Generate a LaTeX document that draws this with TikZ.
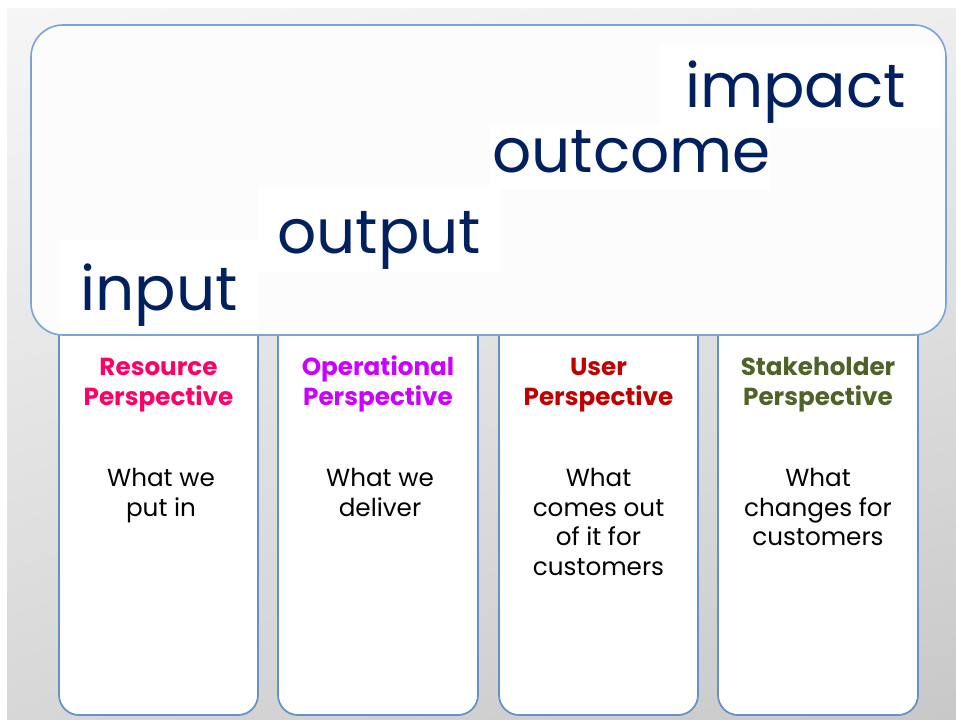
\documentclass[tikz,border=0pt]{standalone}
\usepackage{fontspec}
\setmainfont{Poppins}
\usetikzlibrary{shadings}
\definecolor{navy}{RGB}{0,32,96}
\definecolor{resc}{RGB}{255,0,102}
\definecolor{operc}{RGB}{204,0,255}
\definecolor{userc}{RGB}{192,0,0}
\definecolor{stakec}{RGB}{79,98,40}
\definecolor{bigborder}{RGB}{120,164,214}
\definecolor{colborder}{RGB}{100,145,200}
\definecolor{bigfill}{RGB}{252,252,252}
\definecolor{bgul}{RGB}{246,246,246}
\definecolor{bgur}{RGB}{238,238,238}
\definecolor{bgll}{RGB}{215,215,215}
\definecolor{bglr}{RGB}{200,200,200}
\newcommand{\hstrut}{\rule{0pt}{18pt}}
\tikzset{
  column/.style={draw=colborder, fill=white, line width=1.3pt, rounded corners=15pt},
  bigword/.style={text=navy, anchor=base west, inner sep=0pt, font=\fontsize{46}{50}\selectfont},
  wordbg/.style={fill=white, draw=none},
  heading/.style={anchor=north, inner sep=0pt, align=center, font=\bfseries\fontsize{18.5}{22.5}\selectfont},
  body/.style={anchor=north, inner sep=0pt, align=center, text=black, font=\fontsize{18.5}{22.2}\selectfont}
}
\begin{document}
\begin{tikzpicture}[x=0.75pt,y=-0.75pt]
\useasboundingbox (0,0) rectangle (956,719);
\fill[white] (0,0) rectangle (956,719);
\shade[upper left=bgul, upper right=bgur, lower left=bgll, lower right=bglr]
  (7,8) rectangle (956,719);
% columns
\filldraw[column] (59,330) -- (59,715) -- (258,715) -- (258,330);
\filldraw[column] (278,330) -- (278,715) -- (478,715) -- (478,330);
\filldraw[column] (499,330) -- (499,715) -- (698,715) -- (698,330);
\filldraw[column] (718,330) -- (718,715) -- (918,715) -- (918,330);
% big box
\node[draw=bigborder, fill=bigfill, line width=1.2pt, rounded corners=24pt, inner sep=0pt,
      minimum width=915*0.75pt, minimum height=310*0.75pt] (top) at (488.5,180) {};
% subtle white backgrounds behind the words
\fill[wordbg] (60,240) rectangle (258,333);
\fill[wordbg] (258,187) rectangle (500,272);
\fill[wordbg] (490,125) rectangle (770,190);
\fill[wordbg] (660,45) rectangle (940,128);
% words
\node[bigword] (input) at (80,310) {input};
\node[bigword] (output) at (277,253) {output};
\node[bigword] (outcome) at (492,172) {outcome};
\node[bigword] (impact) at (685,107) {impact};
% headings
\node[heading, text=resc] (h1) at (158.5,351) {\hstrut Resource\\Perspective};
\node[heading, text=operc] (h2) at (378,351) {\hstrut Operational\\Perspective};
\node[heading, text=userc] (h3) at (598.5,351) {\hstrut User\\Perspective};
\node[heading, text=stakec] (h4) at (818,351) {\hstrut Stakeholder\\Perspective};
% body texts
\node[body] (b1) at (161,468) {What we\\put in};
\node[body] (b2) at (380,468) {What we\\deliver};
\node[body] (b3) at (598.5,468) {What\\comes out\\of it for\\customers};
\node[body] (b4) at (818,468) {What\\changes for\\customers};
\end{tikzpicture}
\end{document}
